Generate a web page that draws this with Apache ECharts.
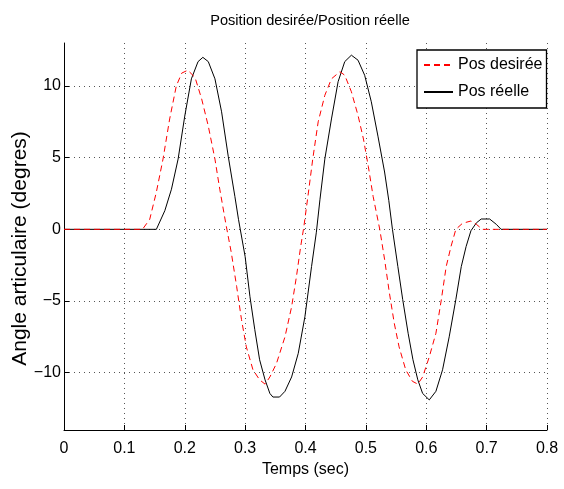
<!DOCTYPE html>
<html>
<head>
<meta charset="utf-8">
<script src="https://cdn.jsdelivr.net/npm/echarts@6/dist/echarts.min.js"></script>
<style>html,body{margin:0;padding:0;background:#fff}#c{width:564px;height:489px}</style>
</head>
<body>
<div id="c"></div>
<script>
const titleText = 'Position desirée/Position réelle';
const xName = 'Temps (sec)';
const yName = 'Angle articulaire (degres)';
const seriesNames = ['Pos desirée', 'Pos réelle'];
const yTicks = [-10, -5, 0, 5, 10];

const desiredT = [0, 0.13, 0.142, 0.153, 0.164, 0.175, 0.186, 0.195, 0.205, 0.217, 0.228, 0.239, 0.25, 0.258, 0.268, 0.277, 0.286, 0.294, 0.302, 0.313, 0.324, 0.333, 0.341, 0.352, 0.366, 0.377, 0.385, 0.392, 0.397, 0.404, 0.412, 0.421, 0.432, 0.443, 0.457, 0.465, 0.476, 0.487, 0.496, 0.504, 0.512, 0.523, 0.531, 0.539, 0.547, 0.555, 0.566, 0.577, 0.586, 0.594, 0.605, 0.616, 0.625, 0.633, 0.641, 0.649, 0.66, 0.674, 0.683, 0.693, 0.8];
const desiredV = [0, 0, 0.7, 2.6, 4.9, 7.7, 10.0, 10.9, 11.1, 10.6, 9.1, 7.2, 4.9, 2.8, 0.4, -1.6, -4.0, -6.3, -8.2, -9.8, -10.5, -10.8, -10.3, -9.35, -7.5, -5.4, -3.3, -1.2, 0.1, 2.3, 4.9, 7.5, 9.35, 10.5, 11.0, 10.75, 9.6, 7.95, 6.3, 4.4, 2.3, 0, -2.1, -4.45, -6.55, -8.2, -9.8, -10.6, -10.8, -10.3, -8.9, -7.25, -4.9, -2.6, -1.2, 0, 0.42, 0.58, 0.35, 0, 0];

const actualT = [0, 0.153, 0.167, 0.178, 0.189, 0.2, 0.211, 0.222, 0.23, 0.239, 0.25, 0.261, 0.272, 0.283, 0.289, 0.3, 0.308, 0.316, 0.324, 0.333, 0.341, 0.346, 0.357, 0.366, 0.377, 0.388, 0.399, 0.41, 0.418, 0.424, 0.432, 0.443, 0.454, 0.465, 0.476, 0.487, 0.498, 0.509, 0.52, 0.531, 0.538, 0.544, 0.553, 0.561, 0.57, 0.578, 0.586, 0.594, 0.605, 0.616, 0.627, 0.638, 0.649, 0.658, 0.666, 0.674, 0.683, 0.691, 0.705, 0.716, 0.724, 0.8];
const actualV = [0, 0, 1.3, 2.8, 4.9, 7.9, 10.5, 11.7, 12.0, 11.7, 10.5, 8.2, 5.1, 2.3, 0.7, -1.9, -4.7, -7.0, -9.1, -10.5, -11.45, -11.7, -11.7, -11.3, -10.3, -8.65, -6.1, -2.6, -0.2, 2.1, 4.9, 7.7, 10.3, 11.7, 12.15, 11.8, 10.75, 8.9, 6.5, 4.0, 2.0, 0, -2.6, -4.9, -7.25, -9.1, -10.5, -11.45, -11.9, -11.3, -9.8, -7.5, -4.9, -2.6, -1.2, -0.1, 0.45, 0.72, 0.72, 0.35, 0, 0];

const FONT = "'Liberation Sans', Arial, Helvetica, sans-serif";

const chart = echarts.init(document.getElementById('c'), null, {renderer: 'canvas'});
const gridColor = '#555';
chart.setOption({
  animation: false,
  backgroundColor: '#fff',
  title: {
    text: titleText, left: 305, top: 8, textAlign: 'center',
    textStyle: {fontFamily: FONT, fontSize: 14.6, fontWeight: 'normal', color: '#000'}
  },
  legend: {
    orient: 'vertical', left: 417, top: 50,
    padding: [7, 4, 8, 6], itemGap: 11, itemWidth: 29, itemHeight: 14,
    borderColor: '#000', borderWidth: 1.3, backgroundColor: '#fff',
    itemStyle: {color: 'rgba(0,0,0,0)', borderWidth: 0, opacity: 0},
    textStyle: {fontFamily: FONT, fontSize: 16, color: '#000'},
    data: seriesNames
  },
  grid: {left: 64, right: 17, top: 43, bottom: 59, containLabel: false, outerBoundsMode: 'none'},
  xAxis: {
    type: 'value', min: 0, max: 0.8, interval: 0.1,
    name: xName, nameLocation: 'middle', nameGap: 32, nameMoveOverlap: false,
    nameTextStyle: {fontFamily: FONT, fontSize: 16, color: '#000'},
    axisLine: {show: true, onZero: false, lineStyle: {color: '#000', width: 1}},
    axisTick: {show: true, inside: true, length: 5, lineStyle: {color: '#000'}},
    axisLabel: {fontFamily: FONT, fontSize: 16, color: '#000', margin: 11,
      formatter: v => (Math.round(v * 10) / 10).toString()},
    splitLine: {show: true, lineStyle: {color: gridColor, type: [1, 4], width: 1}}
  },
  yAxis: {
    type: 'value', min: -14, max: 13,
    name: yName, nameLocation: 'middle', nameGap: 33, nameMoveOverlap: false,
    nameTextStyle: {fontFamily: FONT, fontSize: 21, color: '#000', padding: [0, 24, 0, 0]},
    axisLine: {show: true, onZero: false, lineStyle: {color: '#000', width: 1}},
    axisTick: {show: true, inside: true, length: 5, customValues: yTicks, lineStyle: {color: '#000'}},
    axisLabel: {fontFamily: FONT, fontSize: 16, color: '#000', margin: 3, customValues: yTicks,
      formatter: v => v < 0 ? '\u2212' + Math.abs(v) : String(v)},
    splitLine: {show: true, customValues: yTicks, lineStyle: {color: gridColor, type: [1, 4], width: 1}}
  },
  series: [
    {
      name: seriesNames[0], type: 'line', symbol: 'none', smooth: false,
      lineStyle: {color: '#ff0000', width: 1, type: [6, 4]},
      itemStyle: {color: '#ff0000'},
      data: desiredT.map((t, i) => [t, desiredV[i]]), z: 3
    },
    {
      name: seriesNames[1], type: 'line', symbol: 'none', smooth: false,
      lineStyle: {color: '#000', width: 1},
      itemStyle: {color: '#000'},
      data: actualT.map((t, i) => [t, actualV[i]]), z: 2
    }
  ]
});
</script>
</body>
</html>
